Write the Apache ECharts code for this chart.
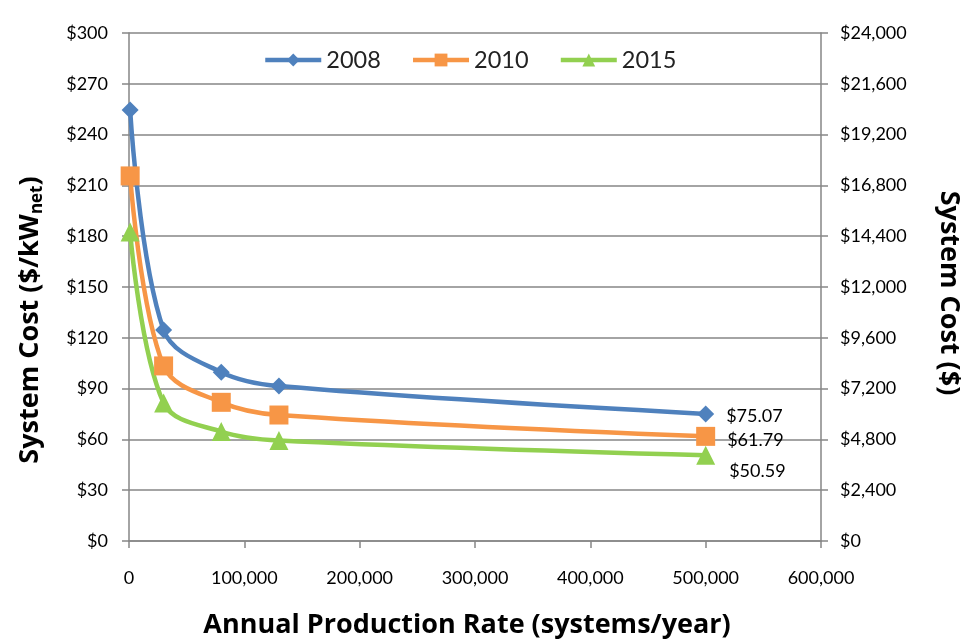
<!DOCTYPE html>
<html><head><meta charset="utf-8">
<script src="https://cdn.jsdelivr.net/npm/echarts@6/dist/echarts.min.js"></script>
<style>html,body{margin:0;padding:0;background:#fff}#c{width:967px;height:641px}</style>
</head><body><div id="c"></div>
<script>
const rates = [1000, 30000, 80000, 130000, 500000];
const cost2008 = [254.5, 124.6, 99.7, 91.5, 75.07];
const cost2010 = [215.6, 103.4, 81.9, 74.4, 61.79];
const cost2015 = [182.5, 81.5, 64.6, 59.3, 50.59];
const leftTicks = {min: 0, max: 300, step: 30};
const rightTicks = {min: 0, max: 24000, step: 2400};
const xTicks = {min: 0, max: 600000, step: 100000};

const font = 'Lato, "Open Sans", sans-serif';
const titleFont = '"Open Sans", Lato, sans-serif';
const axisGray = '#868686';

function mk(name, data, color, symbol, size, labelOffset) {
  return {
    name, type: 'line', smooth: 0.35, yAxisIndex: 0,
    data: rates.map((r, i) => [r, data[i]]),
    symbol, symbolSize: size, showAllSymbol: true,
    lineStyle: {color, width: 4.5},
    itemStyle: {color},
    label: {
      show: true, position: 'right', distance: 12, offset: labelOffset,
      formatter: p => p.dataIndex === data.length - 1 ? '$' + p.value[1].toFixed(2) : '',
      fontFamily: font, fontSize: 18, color: '#000'
    },
    z: 3
  };
}

const chart = echarts.init(document.getElementById('c'));
chart.setOption({
  animation: false,
  backgroundColor: '#fff',
  grid: {left: 129, right: 146, top: 33, bottom: 100, containLabel: false, outerBoundsMode: 'none'},
  legend: {
    top: 43, left: 258,
    itemWidth: 56, itemHeight: 16, itemGap: 30,
    lineStyle: {width: 4.5},
    textStyle: {fontFamily: font, fontSize: 23.5, color: '#222'},
    data: ['2008', '2010', '2015']
  },
  graphic: [
    {type: 'text', x: 30, y: 320, rotation: Math.PI / 2, silent: true,
      style: {text: '{t|System Cost ($/kW}{s|net}{t|)}', align: 'center', verticalAlign: 'middle',
        rich: {
          t: {fontFamily: titleFont, fontWeight: 'bold', fontSize: 27, fill: '#000'},
          s: {fontFamily: titleFont, fontWeight: 'bold', fontSize: 17, fill: '#000', verticalAlign: 'bottom', padding: [15, 0, 0, 0]}
        }}},
    {type: 'text', x: 949, y: 293, rotation: -Math.PI / 2, silent: true,
      style: {text: 'System Cost ($)', align: 'center', verticalAlign: 'middle',
        font: 'bold 27px ' + titleFont, fill: '#000'}},
    {type: 'text', x: 467, y: 625, silent: true,
      style: {text: 'Annual Production Rate (systems/year)', align: 'center', verticalAlign: 'middle',
        font: 'bold 27px ' + titleFont, fill: '#000'}}
  ],
  xAxis: {
    type: 'value', min: xTicks.min, max: xTicks.max, interval: xTicks.step,
    axisLine: {show: true, lineStyle: {color: axisGray, width: 1.5}},
    axisTick: {show: true, length: 7, lineStyle: {color: axisGray, width: 1.5}},
    splitLine: {show: false},
    axisLabel: {margin: 28, fontFamily: font, fontSize: 18, color: '#000',
      formatter: v => v.toLocaleString('en-US')}
  },
  yAxis: [{
    type: 'value', min: leftTicks.min, max: leftTicks.max, interval: leftTicks.step,
    position: 'left',
    axisLine: {show: true, lineStyle: {color: axisGray, width: 1.5}},
    axisTick: {show: true, length: 7, lineStyle: {color: axisGray, width: 1.5}},
    splitLine: {show: true, lineStyle: {color: axisGray, width: 1.5}},
    axisLabel: {margin: 21, fontFamily: font, fontSize: 18, color: '#000', formatter: v => '$' + v}
  }, {
    type: 'value', min: rightTicks.min, max: rightTicks.max, interval: rightTicks.step,
    position: 'right',
    axisLine: {show: true, lineStyle: {color: axisGray, width: 1.5}},
    axisTick: {show: true, length: 7, lineStyle: {color: axisGray, width: 1.5}},
    splitLine: {show: false},
    axisLabel: {margin: 19, fontFamily: font, fontSize: 18, color: '#000',
      formatter: v => '$' + v.toLocaleString('en-US')}
  }],
  series: [
    mk('2008', cost2008, '#4F81BD', 'diamond', 17, [0, 2]),
    mk('2010', cost2010, '#F79646', 'rect', 19, [0, 4]),
    mk('2015', cost2015, '#92D050', 'triangle', 19, [2, 16]),
    {type: 'line', yAxisIndex: 1, data: [], silent: true}
  ]
});
</script></body></html>
